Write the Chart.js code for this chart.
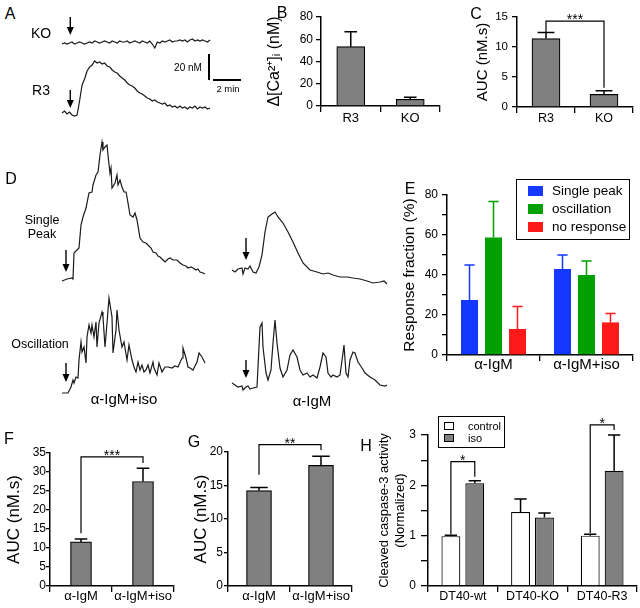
<!DOCTYPE html>
<html>
<head>
<meta charset="utf-8">
<script src="https://cdn.jsdelivr.net/npm/chart.js@4.4.0/dist/chart.umd.min.js"></script>
<style>
body { margin: 0; background: #fff; }
#fig { position: relative; width: 640px; height: 608px; overflow: hidden; background: #fff;
       font-family: "Liberation Sans", Arial, sans-serif; color: #000; }
#fig canvas { position: absolute; }
.t { position: absolute; transform: translate(-50%, -50%); white-space: nowrap; line-height: 1; }
.bar { position: absolute; background: #000; }
.leg { position: absolute; border: 1.5px solid #000; background: #fff; box-sizing: border-box; }
.sw { position: absolute; box-sizing: border-box; }
.lt { position: absolute; white-space: nowrap; line-height: 1; transform: translateY(-50%); }
</style>
</head>
<body>
<div id="fig"></div>
<script>
const FONT = '"Liberation Sans", Arial, Helvetica, sans-serif';
Chart.defaults.font.family = FONT;
Chart.defaults.color = '#000';

// A: calcium traces (nM above baseline, one sample per step)
const koTrace = [-1,0,-1,0,1,-1,0,1,0,-1, 0,1,0,2,1,0,1,2,1,0, 2,1,0,2,1,1,2,0,1,2,
                 1,0,2,1,0,2,-1,-5,1,0, 2,1,2,3,1,2,2,3,2,3, 1,3,4,2,3,2,3,2,1,3];
const r3Trace = [0,2,-1,1,-2,-3,-2,12,28,34, 42,46,48,52,50,51,49,50,47,46, 43,41,40,37,35,33,30,28,27,25,
                 22,20,19,17,15,14,12,13,11,10, 9,10,7,8,6,7,5,7,5,6, 4,6,5,7,4,6,5,6,4,5];

// B
const bCats = ['R3', 'KO'];
const bMean = [53.3, 6.0];
const bErr = [66.8, 7.8];

// C
const cCats = ['R3', 'KO'];
const cMean = [11.4, 2.1];
const cErr = [12.4, 2.7];

// D: example traces (time, signal above baseline)
const spIsoT = [0,5,10,11,12,15,17,19,21,24,27,30,31,34,36,38,40,41,43,45,46,48,49,50,53,55,56,58,60,62,64,65,68,71,73,75,
                78,81,84,86,89,91,94,96,98,101,103,106,108,111,115,118,121,124,126,129,131,134,136,138,141,143];
const spIsoV = [-1,1,2,1,27,30,32,55,63,72,87,88,95,105,108,125,138,130,133,135,125,107,112,92,97,105,95,100,93,88,88,83,65,63,67,60,
                42,38,37,35,32,28,27,24,23,20,18,21,22,20,20,17,15,14,12,13,12,10,11,8,7,6];
const spIgmT = [0,3,6,10,11,13,16,18,21,24,27,30,33,36,40,43,46,51,56,61,66,71,78,85,91,96,101,108,115,121,128,135,141,148,152,155];
const spIgmV = [0,-2,1,2,-4,2,1,4,-2,-3,3,15,38,53,56,58,53,47,38,28,17,7,0,-2,-4,-3,-5,-7,-7,-8,-9,-11,-13,-12,-11,-14];
const osIsoT = [0,6,9,11,12,14,16,17,19,20,22,24,25,27,29,30,32,34,35,37,40,41,43,45,47,50,51,54,55,57,60,62,65,67,70,
                72,74,76,78,80,82,84,86,88,91,92,95,97,100,103,106,110,113,116,120,121,124,126,128,131,132,135,137,140,143];
const osIsoV = [0,0,6,13,10,16,15,33,51,41,46,30,56,68,60,68,56,71,46,70,81,76,46,70,95,76,40,63,83,63,46,51,33,48,33,
                26,21,31,23,28,21,23,28,20,31,25,18,30,21,26,26,25,27,26,35,45,35,26,25,23,25,31,40,36,30];
const osIgmT = [0,3,6,10,11,14,16,18,21,25,26,28,30,31,34,36,39,41,43,45,48,51,55,58,61,65,68,71,75,78,81,85,88,91,94,
                96,99,101,105,108,111,112,114,116,118,121,123,126,130,133,138,143,148,153,155];
const osIgmV = [4,2,0,1,-3,0,1,-2,-1,0,20,60,64,40,14,7,17,44,67,44,19,10,17,32,37,30,17,12,14,10,12,9,20,34,30,
                14,10,12,10,12,34,42,14,10,27,35,34,25,19,14,10,7,2,1,2];

// E
const eCats = ['\u03b1-IgM', '\u03b1-IgM+iso'];
const eSeries = ['Single peak', 'oscillation', 'no response'];
const eColors = ['#1438ff', '#00a000', '#ff1a1a'];
const eSingle = [27.5, 43.0];
const eSingleErr = [45.0, 50.0];
const eOsc = [58.8, 40.0];
const eOscErr = [76.7, 47.0];
const eNone = [13.0, 16.3];
const eNoneErr = [24.2, 20.7];

// F
const fCats = ['\u03b1-IgM', '\u03b1-IgM+iso'];
const fMean = [11.6, 27.5];
const fErr = [12.4, 31.0];

// G
const gCats = ['\u03b1-IgM', '\u03b1-IgM+iso'];
const gMean = [14.25, 18.0];
const gErr = [14.7, 19.35];

// H
const hCats = ['DT40-wt', 'DT40-KO', 'DT40-R3'];
const hSeries = ['control', 'iso'];
const hControl = [0.99, 1.47, 1.0];
const hControlErr = [1.01, 1.73, 1.03];
const hIso = [2.04, 1.36, 2.29];
const hIsoErr = [2.09, 1.45, 3.0];

const fig = document.getElementById('fig');

function place(left, top, w, h) {
  const c = document.createElement('canvas');
  c.width = w; c.height = h;
  c.style.left = left + 'px'; c.style.top = top + 'px';
  c.style.width = w + 'px'; c.style.height = h + 'px';
  fig.appendChild(c);
  return c;
}

function text(str, x, y, size) {
  const d = document.createElement('div');
  d.className = 't';
  d.textContent = str;
  d.style.left = x + 'px'; d.style.top = y + 'px'; d.style.fontSize = size + 'px';
  fig.appendChild(d);
}

function box(cls, left, top, w, h, css) {
  const d = document.createElement('div');
  d.className = cls;
  d.style.left = left + 'px'; d.style.top = top + 'px';
  d.style.width = w + 'px'; d.style.height = h + 'px';
  Object.assign(d.style, css || {});
  fig.appendChild(d);
  return d;
}

// one-sided error bars, read from dataset.errTop
function errorBarPlugin(cap) {
  return {
    id: 'errorBars',
    afterDatasetsDraw(chart) {
      const ctx = chart.ctx, y = chart.scales.y;
      chart.data.datasets.forEach((ds, di) => {
        if (!ds.errTop) return;
        chart.getDatasetMeta(di).data.forEach((bar, i) => {
          const yTop = y.getPixelForValue(ds.errTop[i]);
          const yBar = y.getPixelForValue(ds.data[i]);
          const half = bar.width * cap / 2;
          ctx.save();
          ctx.strokeStyle = ds.errColor || '#000';
          ctx.lineWidth = 1.5;
          ctx.beginPath();
          ctx.moveTo(bar.x, yBar); ctx.lineTo(bar.x, yTop);
          ctx.moveTo(bar.x - half, yTop); ctx.lineTo(bar.x + half, yTop);
          ctx.stroke();
          ctx.restore();
        });
      });
    }
  };
}

// significance brackets between two bars
function bracketPlugin(items) {
  return {
    id: 'brackets',
    afterDatasetsDraw(chart) {
      const ctx = chart.ctx, y = chart.scales.y;
      items.forEach(b => {
        const p = chart.getDatasetMeta(b.a[0]).data[b.a[1]];
        const q = chart.getDatasetMeta(b.b[0]).data[b.b[1]];
        const top = y.getPixelForValue(b.top);
        ctx.save();
        ctx.strokeStyle = '#000';
        ctx.lineWidth = 1.2;
        ctx.beginPath();
        ctx.moveTo(p.x, y.getPixelForValue(b.ends[0]));
        ctx.lineTo(p.x, top);
        ctx.lineTo(q.x, top);
        ctx.lineTo(q.x, y.getPixelForValue(b.ends[1]));
        ctx.stroke();
        ctx.fillStyle = '#000';
        ctx.font = '14px ' + FONT;
        ctx.textAlign = 'center';
        ctx.textBaseline = 'alphabetic';
        ctx.fillText(b.text, (p.x + q.x) / 2, top + 3);
        ctx.restore();
      });
    }
  };
}

// stimulus arrow on a trace
function arrowPlugin(a) {
  return {
    id: 'arrowMark',
    afterDatasetsDraw(chart) {
      const ctx = chart.ctx, x = chart.scales.x, y = chart.scales.y;
      const px = x.getPixelForValue(a.at), y0 = y.getPixelForValue(a.from), y1 = y.getPixelForValue(a.to);
      ctx.save();
      ctx.strokeStyle = '#000'; ctx.fillStyle = '#000'; ctx.lineWidth = 1.4;
      ctx.beginPath(); ctx.moveTo(px, y0); ctx.lineTo(px, y1 - 6); ctx.stroke();
      ctx.beginPath(); ctx.moveTo(px - 3.5, y1 - 8); ctx.lineTo(px + 3.5, y1 - 8); ctx.lineTo(px, y1); ctx.closePath(); ctx.fill();
      ctx.restore();
    }
  };
}

function traceChart(p) {
  const cv = place(p.left, p.top, p.w, p.h);
  return new Chart(cv, {
    type: 'line',
    data: { datasets: [{ data: p.t.map((t, i) => ({ x: t, y: p.v[i] })), borderColor: '#1a1a1a', borderWidth: 1.2,
                         pointRadius: 0, tension: 0 }] },
    options: {
      responsive: false, animation: false, events: [],
      layout: { padding: 0 },
      plugins: { legend: { display: false }, tooltip: { enabled: false } },
      scales: {
        x: { type: 'linear', display: false, min: p.xMin, max: p.xMax },
        y: { display: false, min: p.yMin, max: p.yMax }
      }
    },
    plugins: [arrowPlugin(p.arrow)]
  });
}

function barChart(p) {
  const cv = place(p.left, p.top, p.w, p.h);
  return new Chart(cv, {
    type: 'bar',
    data: { labels: p.labels, datasets: p.datasets },
    options: {
      responsive: false, animation: false, events: [],
      layout: { padding: { top: p.padTop, right: p.padRight, left: 0, bottom: 0 } },
      plugins: { legend: { display: false }, tooltip: { enabled: false } },
      scales: {
        x: {
          grid: { drawOnChartArea: false, offset: true, color: '#000', lineWidth: 1.3, tickLength: 6 },
          border: { color: '#000', width: 1.5 },
          ticks: { color: '#000', font: { size: p.xFont }, padding: p.xPad, maxRotation: 0, autoSkip: false },
          afterFit: s => { s.height = p.xH; }
        },
        y: {
          min: p.min, max: p.max,
          grid: { drawOnChartArea: false, color: '#000', lineWidth: 1.3, tickLength: p.yTick },
          border: { color: '#000', width: 1.5 },
          ticks: { stepSize: p.step, autoSkip: false, color: '#000', font: { size: p.yFont }, padding: p.yPad,
                   callback: v => (p.major(v) ? String(v) : '') },
          title: { display: true, text: p.title, color: '#000', font: { size: p.titleSize },
                   padding: { top: p.titlePad, bottom: 0 } },
          afterFit: s => { s.width = p.yW; }
        }
      }
    },
    plugins: [errorBarPlugin(p.cap), bracketPlugin(p.brackets || [])]
  });
}

const gray = '#808080';
function grayBars(mean, err, thick) {
  return [{ data: mean, errTop: err, backgroundColor: gray, borderColor: '#000', borderWidth: 1.2, barThickness: thick }];
}

// ---------- A ----------
traceChart({ left: 60, top: 0, w: 152, h: 60, t: koTrace.map((v, i) => i), v: koTrace,
  xMin: -0.8, xMax: 59.8, yMin: -17, yMax: 43, arrow: { at: 3.3, from: 26, to: 8 } });
traceChart({ left: 60, top: 55, w: 152, h: 70, t: r3Trace.map((v, i) => i), v: r3Trace,
  xMin: -0.8, xMax: 59.8, yMin: -12, yMax: 58, arrow: { at: 3.3, from: 23, to: 5 } });
text('A', 10, 14, 16);
text('KO', 41, 33, 14);
text('R3', 41, 90, 14);
box('bar', 208, 54, 2, 26);
box('bar', 213, 79, 28, 2);
text('20 nM', 188, 68, 10);
text('2 min', 228, 89, 9.5);

// ---------- B ----------
barChart({ left: 255, top: 5, w: 190, h: 121, padTop: 12, padRight: 5, yW: 66, xH: 20,
  labels: bCats, datasets: grayBars(bMean, bErr, 28), min: 0, max: 80, step: 20, major: () => true,
  yFont: 12, yTick: 5, yPad: 3, xFont: 13, xPad: -1, title: '\u0394[Ca\u00b2\u207a]\u1d62 (nM)', titleSize: 16, titlePad: 10, cap: 0.45 });
text('B', 282, 13, 16);

// ---------- C ----------
barChart({ left: 470, top: 5, w: 168, h: 122, padTop: 12, padRight: 5, yW: 47, xH: 20,
  labels: cCats, datasets: grayBars(cMean, cErr, 28), min: 0, max: 15, step: 5, major: () => true,
  yFont: 11.5, yTick: 5, yPad: 4, xFont: 12.5, xPad: -2, title: 'AUC (nM.s)', titleSize: 15, titlePad: 4, cap: 0.6,
  brackets: [{ a: [0, 0], b: [0, 1], top: 14.3, ends: [12.4, 3.2], text: '***' }] });
text('C', 476, 14, 16);

// ---------- D ----------
traceChart({ left: 60, top: 135, w: 148, h: 155, t: spIsoT, v: spIsoV,
  xMin: -2, xMax: 146, yMin: -10, yMax: 145, arrow: { at: 4, from: 30, to: 8 } });
traceChart({ left: 230, top: 205, w: 160, h: 85, t: spIgmT, v: spIgmV,
  xMin: -2, xMax: 158, yMin: -20, yMax: 65, arrow: { at: 14, from: 32, to: 10 } });
traceChart({ left: 60, top: 290, w: 148, h: 110, t: osIsoT, v: osIsoV,
  xMin: -2, xMax: 146, yMin: -7, yMax: 103, arrow: { at: 4, from: 30, to: 11 } });
traceChart({ left: 230, top: 315, w: 160, h: 80, t: osIgmT, v: osIgmV,
  xMin: -2, xMax: 158, yMin: -8, yMax: 72, arrow: { at: 14, from: 27, to: 9 } });
text('D', 11, 179, 16);
text('Single', 42, 220, 12.5);
text('Peak', 42, 234, 12.5);
text('Oscillation', 40, 344, 12.5);
text('\u03b1-IgM+iso', 124, 398, 15);
text('\u03b1-IgM', 312, 400, 15);

// ---------- E ----------
const eData = [[eSingle, eSingleErr], [eOsc, eOscErr], [eNone, eNoneErr]];
barChart({ left: 398, top: 170, w: 240, h: 207, padTop: 25, padRight: 5, yW: 49, xH: 22,
  labels: eCats,
  datasets: eData.map((d, k) => ({ label: eSeries[k], data: d[0], errTop: d[1], errColor: eColors[k],
    backgroundColor: eColors[k], borderWidth: 0, categoryPercentage: 0.774, barPercentage: 0.71 })),
  min: 0, max: 80, step: 10, major: v => v % 20 === 0,
  yFont: 12, yTick: 5, yPad: 4, xFont: 15, xPad: -5, title: 'Response fraction (%)', titleSize: 15.5, titlePad: 2.7, cap: 0.6 });
text('E', 410, 189, 16);
box('leg', 516, 179, 114, 61);
eSeries.forEach((name, k) => {
  const cy = 191 + k * 18.2;
  box('sw', 528, cy - 5, 15, 10, { background: eColors[k] });
  const d = box('lt', 552, cy, 80, 16, { fontSize: '13.5px' });
  d.style.height = 'auto'; d.style.width = 'auto';
  d.textContent = name;
});

// ---------- F ----------
barChart({ left: 0, top: 435, w: 178, h: 171, padTop: 18, padRight: 4, yW: 50, xH: 20,
  labels: fCats, datasets: grayBars(fMean, fErr, 21), min: 0, max: 35, step: 5, major: () => true,
  yFont: 12, yTick: 4, yPad: 0, xFont: 13, xPad: -3, title: 'AUC (nM.s)', titleSize: 17, titlePad: 3.8, cap: 0.6,
  brackets: [{ a: [0, 0], b: [0, 1], top: 34.0, ends: [13.9, 32.4], text: '***' }] });
text('F', 9, 439, 16);

// ---------- G ----------
barChart({ left: 185, top: 430, w: 171, h: 176, padTop: 22, padRight: 4, yW: 43, xH: 20,
  labels: gCats, datasets: grayBars(gMean, gErr, 25), min: 0, max: 20, step: 5, major: () => true,
  yFont: 12, yTick: 4, yPad: 1, xFont: 13, xPad: -3, title: 'AUC (nM.s)', titleSize: 17, titlePad: 5.8, cap: 0.7,
  brackets: [{ a: [0, 0], b: [0, 1], top: 21.1, ends: [16.6, 20.3], text: '**' }] });
text('G', 194, 442, 16);

// ---------- H ----------
barChart({ left: 360, top: 400, w: 279, h: 206, padTop: 35, padRight: 2, yW: 68, xH: 20,
  labels: hCats,
  datasets: [
    { label: hSeries[0], data: hControl, errTop: hControlErr, backgroundColor: '#fff', borderColor: '#000', borderWidth: 1.2,
      categoryPercentage: 0.686, barPercentage: 0.79 },
    { label: hSeries[1], data: hIso, errTop: hIsoErr, backgroundColor: gray, borderColor: '#000', borderWidth: 1.2,
      categoryPercentage: 0.686, barPercentage: 0.79 }
  ],
  min: 0, max: 3, step: 0.5, major: v => v % 1 === 0,
  yFont: 12, yTick: 7, yPad: 5, xFont: 12.5, xPad: -3, title: ['Cleaved caspase-3 activity', '(Normalized)'],
  titleSize: 13, titlePad: 17, cap: 0.65,
  brackets: [
    { a: [0, 0], b: [1, 0], top: 2.47, ends: [1.03, 2.17], text: '*' },
    { a: [0, 2], b: [1, 2], top: 3.2, ends: [1.05, 3.1], text: '*' }
  ] });
text('H', 366, 446, 16);
box('leg', 438, 416, 67, 32);
hSeries.forEach((name, k) => {
  const cy = 426 + k * 12;
  box('sw', 444, cy - 4, 10, 8, { background: k ? gray : '#fff', border: '1px solid #000' });
  const d = box('lt', 468, cy, 40, 12, { fontSize: '11px' });
  d.style.height = 'auto'; d.style.width = 'auto';
  d.textContent = name;
});
</script>
</body>
</html>
